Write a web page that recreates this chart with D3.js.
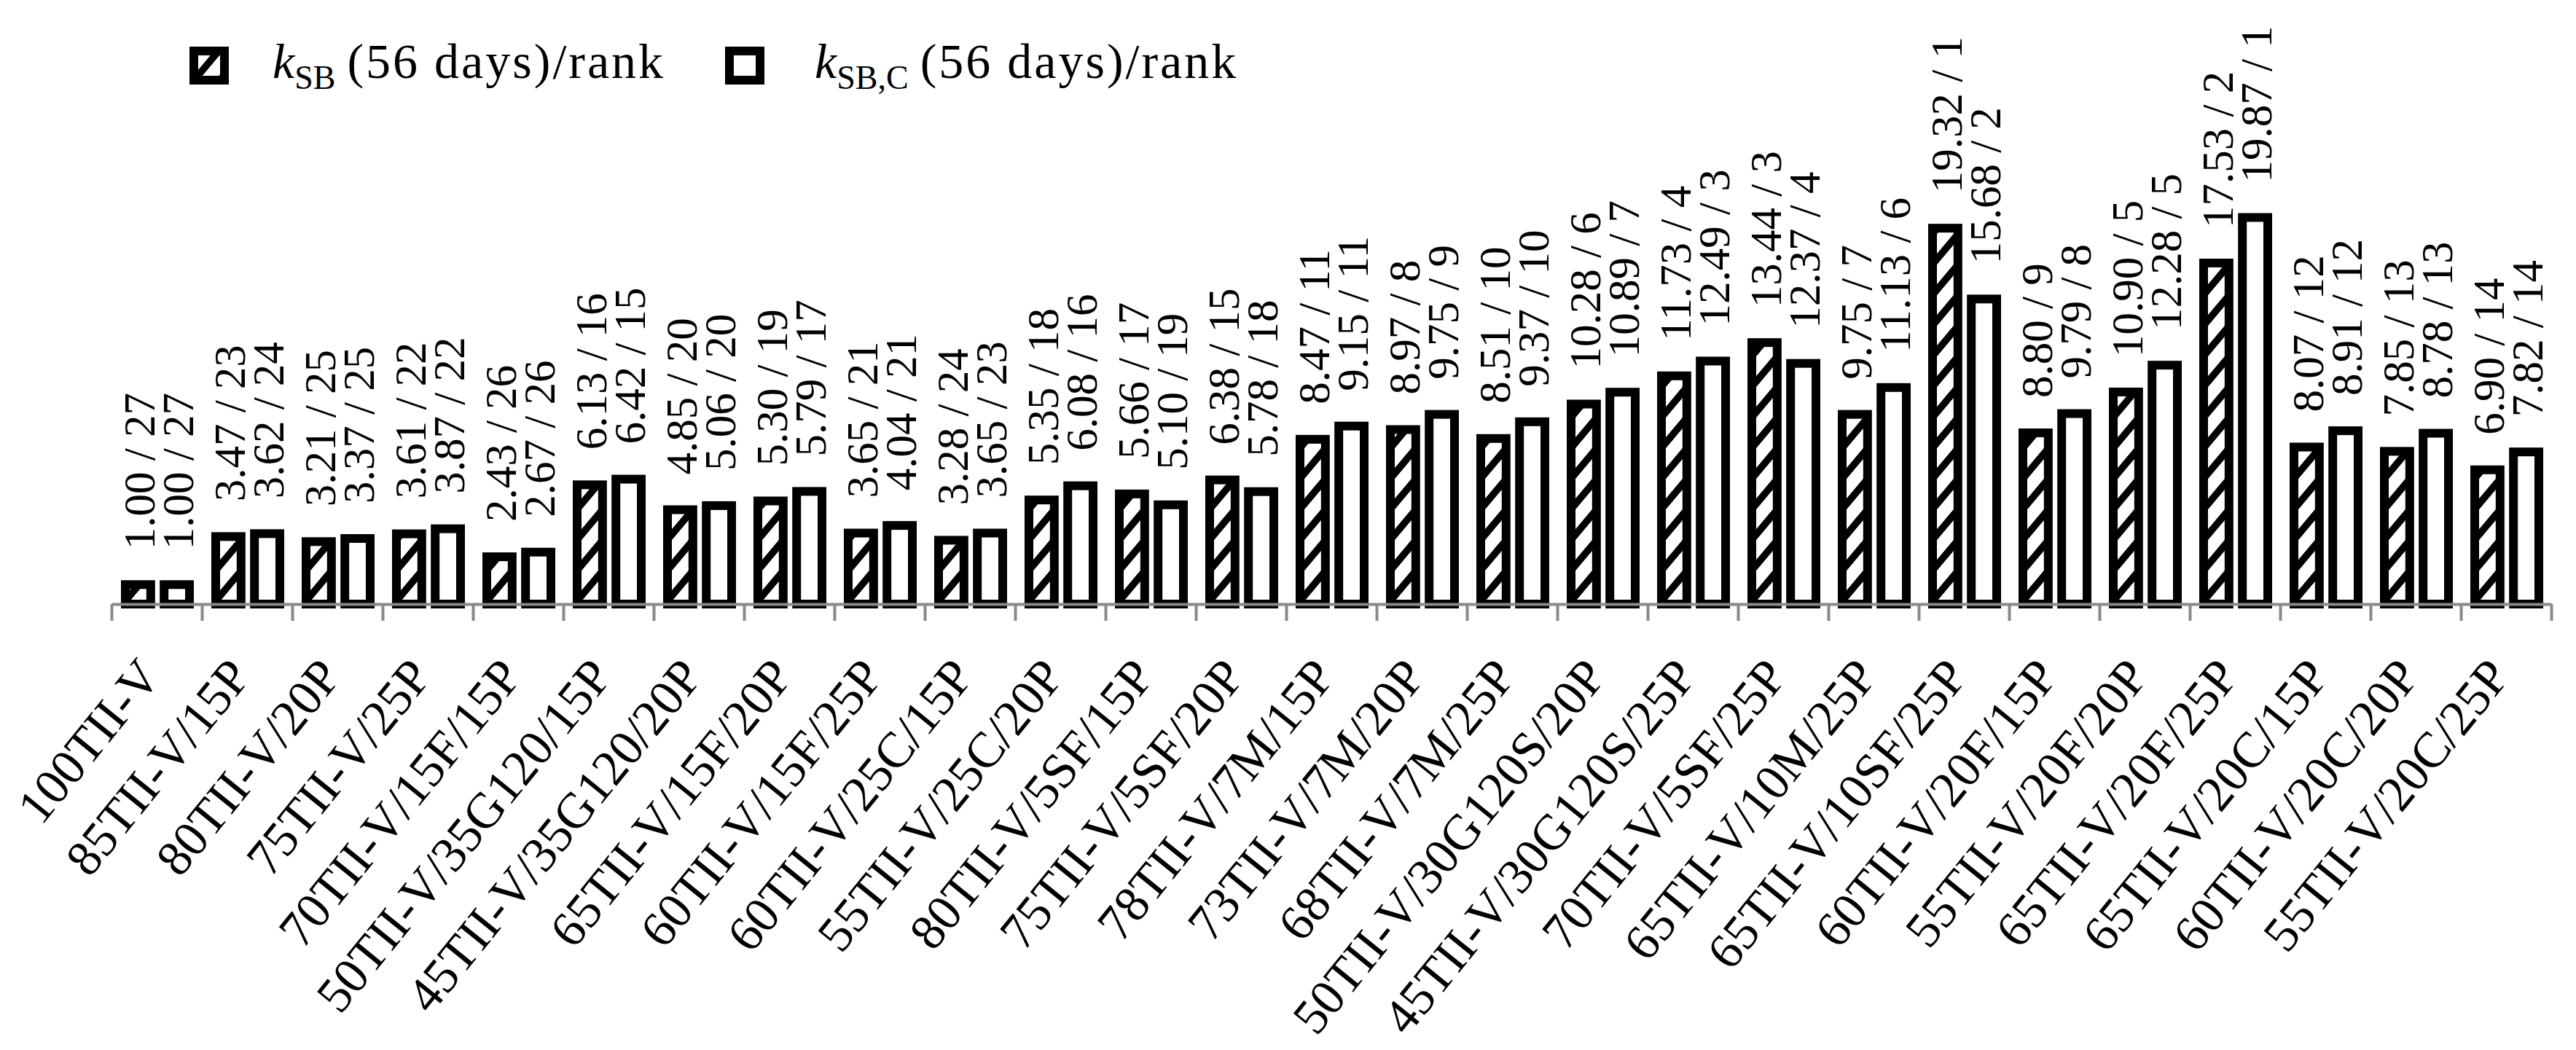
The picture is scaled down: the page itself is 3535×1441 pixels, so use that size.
<!DOCTYPE html>
<html>
<head>
<meta charset="utf-8">
<script src="https://cdn.jsdelivr.net/npm/d3@7"></script>
<style>
  body { margin: 0; background: #fff; }
  text { font-family: "Liberation Serif", "Times New Roman", serif; fill: #000; }
</style>
</head>
<body>
<svg id="chart"></svg>
<script>
// chart data
const categories = [
    "100TII-V", "85TII-V/15P", "80TII-V/20P", "75TII-V/25P", "70TII-V/15F/15P",
    "50TII-V/35G120/15P", "45TII-V/35G120/20P", "65TII-V/15F/20P", "60TII-V/15F/25P",
    "60TII-V/25C/15P", "55TII-V/25C/20P", "80TII-V/5SF/15P", "75TII-V/5SF/20P",
    "78TII-V/7M/15P", "73TII-V/7M/20P", "68TII-V/7M/25P", "50TII-V/30G120S/20P",
    "45TII-V/30G120S/25P", "70TII-V/5SF/25P", "65TII-V/10M/25P", "65TII-V/10SF/25P",
    "60TII-V/20F/15P", "55TII-V/20F/20P", "65TII-V/20F/25P", "65TII-V/20C/15P",
    "60TII-V/20C/20P", "55TII-V/20C/25P"
];
const kSB = [1.00, 3.47, 3.21, 3.61, 2.43, 6.13, 4.85, 5.30, 3.65, 3.28, 5.35, 5.66, 6.38,
    8.47, 8.97, 8.51, 10.28, 11.73, 13.44, 9.75, 19.32, 8.80, 10.90, 17.53, 8.07, 7.85, 6.90];
const kSBRank = [27, 23, 25, 22, 26, 16, 20, 19, 21, 24, 18, 17, 15,
    11, 8, 10, 6, 4, 3, 7, 1, 9, 5, 2, 12, 13, 14];
const kSBC = [1.00, 3.62, 3.37, 3.87, 2.67, 6.42, 5.06, 5.79, 4.04, 3.65, 6.08, 5.10, 5.78,
    9.15, 9.75, 9.37, 10.89, 12.49, 12.37, 11.13, 15.68, 9.79, 12.28, 19.87, 8.91, 8.78, 7.82];
const kSBCRank = [27, 24, 25, 22, 26, 15, 20, 17, 21, 23, 16, 19, 18,
    11, 9, 10, 7, 3, 4, 6, 2, 8, 5, 1, 12, 13, 14];
const seriesKeys = ["sb", "sbc"];

const width = 3535, height = 1441;
const axisY = 829;
const barStroke = 12;

const svg = d3.select("#chart")
    .attr("width", width)
    .attr("height", height);

svg.append("rect").attr("width", width).attr("height", height).attr("fill", "#fff");

// hatch pattern for the kSB bars
const defs = svg.append("defs");
const pat = defs.append("pattern")
    .attr("id", "hatch")
    .attr("patternUnits", "userSpaceOnUse")
    .attr("width", 10)
    .attr("height", 42)
    .attr("patternTransform", "skewY(-50)");
pat.append("rect").attr("width", 10).attr("height", 42).attr("fill", "#fff");
pat.append("rect").attr("width", 10).attr("height", 15).attr("fill", "#000");

const rows = categories.map((c, i) => ({
    cat: c,
    values: [
        { key: "sb", v: kSB[i], rank: kSBRank[i] },
        { key: "sbc", v: kSBC[i], rank: kSBCRank[i] }
    ]
}));

const x0 = d3.scaleBand()
    .domain(categories)
    .range([153, 3501]);

const x1 = d3.scaleBand()
    .domain(seriesKeys)
    .range([13, 113])
    .paddingInner(0.12);

const y = d3.scaleLinear()
    .domain([0, 20])
    .range([axisY, axisY - 534]);

const groups = svg.append("g")
    .selectAll("g")
    .data(rows)
    .join("g")
    .attr("transform", d => `translate(${x0(d.cat)},0)`);

groups.selectAll("rect")
    .data(d => d.values)
    .join("rect")
    .attr("x", d => x1(d.key) + barStroke / 2)
    .attr("width", x1.bandwidth() - barStroke)
    .attr("y", d => y(d.v))
    .attr("height", d => y(0) - y(d.v))
    .attr("fill", d => d.key === "sb" ? "url(#hatch)" : "#fff")
    .attr("stroke", "#000")
    .attr("stroke-width", barStroke);

// value / rank labels, rotated
groups.selectAll("text.val")
    .data(d => d.values)
    .join("text")
    .attr("class", "val")
    .attr("font-size", 61)
    .attr("transform", d => `translate(${x1(d.key) + x1.bandwidth() - 1},${y(d.v) - barStroke / 2 - 42}) rotate(-90)`)
    .text(d => `${d.v.toFixed(2)} / ${d.rank}`);

// x axis: ticks on the category boundaries
const xb = d3.scaleLinear().domain([0, categories.length]).range([153, 3501]);
const axis = svg.append("g")
    .attr("transform", `translate(0,${axisY})`)
    .call(d3.axisBottom(xb)
        .tickValues(d3.range(categories.length + 1))
        .tickFormat("")
        .tickSize(23)
        .tickSizeOuter(0));
axis.select(".domain").attr("stroke", "#898989").attr("stroke-width", 4);
axis.selectAll(".tick line").attr("stroke", "#898989").attr("stroke-width", 4);

// category labels
svg.append("g")
    .selectAll("text")
    .data(categories)
    .join("text")
    .attr("font-size", 69)
    .attr("text-anchor", "end")
    .attr("transform", d => `translate(${x0(d) + x0.bandwidth() / 2 + 8},${axisY + 100}) rotate(-51)`)
    .text(d => d);

// legend
const legendItems = [
    { key: "sb", sub: "SB", boxX: 266, textX: 374 },
    { key: "sbc", sub: "SB,C", boxX: 1001, textX: 1118 }
];
const legend = svg.append("g");
legend.selectAll("rect")
    .data(legendItems)
    .join("rect")
    .attr("x", d => d.boxX)
    .attr("y", 70)
    .attr("width", 42)
    .attr("height", 40)
    .attr("fill", d => d.key === "sb" ? "url(#hatch)" : "#fff")
    .attr("stroke", "#000")
    .attr("stroke-width", barStroke);

const lt = legend.selectAll("text")
    .data(legendItems)
    .join("text")
    .attr("x", d => d.textX)
    .attr("y", 107)
    .attr("font-size", 68);
lt.append("tspan").attr("font-style", "italic").text("k");
lt.append("tspan").attr("font-size", 46).attr("dy", 15).text(d => d.sub);
lt.append("tspan").attr("dy", -15).attr("dx", 16).attr("letter-spacing", 3).text("(56 days)/rank");
</script>
</body>
</html>
